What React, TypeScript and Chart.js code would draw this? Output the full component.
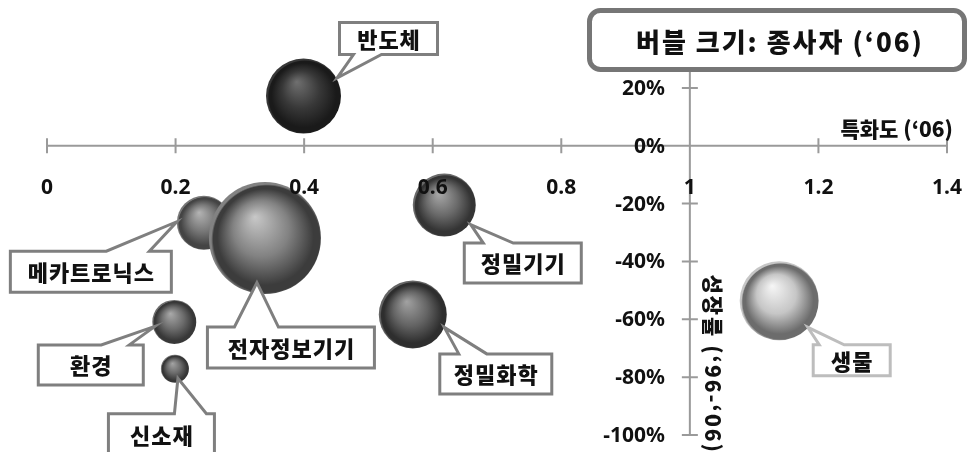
import React, { useEffect, useRef } from 'react';
import { Chart, registerables } from 'chart.js';

Chart.register(...registerables);

// Industry clusters: specialization index ('06) vs. employment growth ('96-'06)
const industries = ['반도체', '메카트로닉스', '전자정보기기', '정밀기기', '정밀화학', '환경', '신소재', '생물'];
const specialization06 = [0.399, 0.244, 0.339, 0.618, 0.569, 0.198, 0.199, 1.139];
const growth96to06 = [0.172, -0.266, -0.319, -0.205, -0.583, -0.609, -0.771, -0.536];
// bubble radius (px) standing for employees in '06
const employeeRadius = [37.5, 27, 56, 31.5, 34, 22, 14, 39.5];

const xTickValues = [0, 0.2, 0.4, 0.6, 0.8, 1, 1.2, 1.4];
const xTickLabels = ['0', '0.2', '0.4', '0.6', '0.8', '1', '1.2', '1.4'];
const yTickValues = [-1, -0.8, -0.6, -0.4, -0.2, 0, 0.2];
const yTickLabels = ['-100%', '-80%', '-60%', '-40%', '-20%', '0%', '20%'];

const xAxisTitle = '특화도 (‘06)';
const yAxisTitle = '성장률 (‘96-‘06)';
const sizeNote = '버블 크기: 종사자 (‘06)';

const KR = '"Noto Sans CJK KR", "Noto Sans", sans-serif';
const NUM = '"Noto Sans", "Noto Sans CJK KR", sans-serif';
const AXIS_GRAY = '#9a9a9a';

// highlight / body / edge shades of each sphere
const sphereShades: string[][] = [
  ['#707070', '#383838', '#1a1a1a'],
  ['#b4b4b4', '#777777', '#444444'],
  ['#c8c8c8', '#828282', '#3c3c3c'],
  ['#aaaaaa', '#6a6a6a', '#343434'],
  ['#a2a2a2', '#646464', '#2e2e2e'],
  ['#aaaaaa', '#6c6c6c', '#383838'],
  ['#a4a4a4', '#6a6a6a', '#363636'],
  ['#f6f6f6', '#c6c6c6', '#6c6c6c'],
];

// callout boxes, placed relative to each bubble's centre (px)
type Callout = {
  box: [number, number, number, number];
  edge: 'top' | 'bottom';
  base: [number, number];
  tip: [number, number];
  stroke: string;
};
const callouts: Callout[] = [
  { box: [34.5, -75, 101, 35], edge: 'bottom', base: [14, 42], tip: [33.5, -18], stroke: '#7f7f7f' },
  { box: [-195, 27, 164, 44], edge: 'top', base: [96, 139], tip: [-27, -1], stroke: '#7f7f7f' },
  { box: [-59, 87.5, 170, 44], edge: 'top', base: [27, 71], tip: [-8, 44.5], stroke: '#7f7f7f' },
  { box: [18.5, 36.5, 120, 43], edge: 'top', base: [19, 49], tip: [26.5, 19.5], stroke: '#7f7f7f' },
  { box: [25.5, 38, 115, 43], edge: 'top', base: [19, 47], tip: [31.5, 13], stroke: '#7f7f7f' },
  { box: [-137.5, 21.5, 108, 43], edge: 'top', base: [63, 91], tip: [-19.5, 4.5], stroke: '#7f7f7f' },
  { box: [-68, 43.5, 109, 44], edge: 'top', base: [66, 98], tip: [3, 9.5], stroke: '#7f7f7f' },
  { box: [32.5, 42.5, 80, 34], edge: 'top', base: [6, 31], tip: [28.5, 26.5], stroke: '#bdbdbd' },
];

function calloutPath(ctx: CanvasRenderingContext2D, x: number, y: number, w: number, h: number, c: Callout, tx: number, ty: number) {
  ctx.beginPath();
  ctx.moveTo(x, y);
  if (c.edge === 'top') {
    ctx.lineTo(x + c.base[0], y);
    ctx.lineTo(tx, ty);
    ctx.lineTo(x + c.base[1], y);
  }
  ctx.lineTo(x + w, y);
  ctx.lineTo(x + w, y + h);
  if (c.edge === 'bottom') {
    ctx.lineTo(x + c.base[1], y + h);
    ctx.lineTo(tx, ty);
    ctx.lineTo(x + c.base[0], y + h);
  }
  ctx.lineTo(x, y + h);
  ctx.closePath();
}

const crossedAxes = {
  id: 'crossedAxes',
  beforeDatasetsDraw(chart: any) {
    const { ctx, scales } = chart;
    const xs = scales.x;
    const ys = scales.y;
    const y0 = ys.getPixelForValue(0);
    const x1 = xs.getPixelForValue(1);
    ctx.save();
    ctx.strokeStyle = AXIS_GRAY;
    ctx.lineWidth = 2;
    ctx.beginPath();
    ctx.moveTo(xs.getPixelForValue(xTickValues[0]), y0);
    ctx.lineTo(xs.getPixelForValue(xTickValues[xTickValues.length - 1]), y0);
    ctx.moveTo(x1, ys.top);
    ctx.lineTo(x1, ys.getPixelForValue(yTickValues[0]));
    xTickValues.forEach((v) => {
      const px = xs.getPixelForValue(v);
      ctx.moveTo(px, y0 - 7.5);
      ctx.lineTo(px, y0 + 7.5);
    });
    yTickValues.forEach((v) => {
      const py = ys.getPixelForValue(v);
      ctx.moveTo(x1 - 8, py);
      ctx.lineTo(x1 + 8, py);
    });
    ctx.stroke();
    ctx.restore();
  },
  afterDatasetsDraw(chart: any) {
    const { ctx, scales } = chart;
    const xs = scales.x;
    const ys = scales.y;
    const y0 = ys.getPixelForValue(0);
    const x1 = xs.getPixelForValue(1);
    ctx.save();
    ctx.fillStyle = '#111';
    ctx.font = `bold 21px ${NUM}`;
    ctx.textAlign = 'center';
    ctx.textBaseline = 'middle';
    xTickValues.forEach((v, i) => {
      ctx.fillText(xTickLabels[i], xs.getPixelForValue(v), y0 + 42);
    });
    ctx.textAlign = 'right';
    yTickValues.forEach((v, i) => {
      ctx.fillText(yTickLabels[i], x1 - 25, ys.getPixelForValue(v) + 1);
    });

    // axis titles
    ctx.font = `900 21px ${KR}`;
    ctx.textAlign = 'right';
    ctx.fillText(xAxisTitle, xs.right + 6, y0 - 17);
    ctx.save();
    ctx.translate(x1 + 23, ys.getPixelForValue(-0.755));
    ctx.rotate(Math.PI / 2);
    ctx.textAlign = 'center';
    (ctx as any).letterSpacing = '2px';
    ctx.fillText(yAxisTitle, 0, 0);
    ctx.restore();

    // callouts
    ctx.lineWidth = 3;
    ctx.lineJoin = 'miter';
    ctx.font = `900 22px ${KR}`;
    (ctx as any).letterSpacing = '1px';
    ctx.textAlign = 'center';
    industries.forEach((name, i) => {
      const c = callouts[i];
      const cx = xs.getPixelForValue(specialization06[i]);
      const cy = ys.getPixelForValue(growth96to06[i]);
      const bx = cx + c.box[0] + 1.5;
      const by = cy + c.box[1] + 1.5;
      const bw = c.box[2] - 3;
      const bh = c.box[3] - 3;
      calloutPath(ctx, bx, by, bw, bh, c, cx + c.tip[0], cy + c.tip[1]);
      ctx.fillStyle = '#fff';
      ctx.fill();
      ctx.strokeStyle = c.stroke;
      ctx.stroke();
      ctx.fillStyle = '#111';
      ctx.fillText(name, bx + bw / 2 + 0.5, by + bh / 2 + 1);
    });

    // bubble size note
    ctx.beginPath();
    (ctx as any).roundRect(589.5, 10.5, 375, 59, 11);
    ctx.fillStyle = '#fff';
    ctx.fill();
    ctx.lineWidth = 5;
    ctx.strokeStyle = '#767676';
    ctx.stroke();
    ctx.fillStyle = '#111';
    ctx.font = `900 26px ${KR}`;
    (ctx as any).letterSpacing = '2px';
    ctx.fillText(sizeNote, 780, 42);
    ctx.restore();
  },
};

function sphereFill(ctx: any) {
  const i = ctx.dataIndex;
  if (ctx.type !== 'data' || i == null) return '#666';
  const chart = ctx.chart;
  const xs = chart.scales.x;
  const ys = chart.scales.y;
  const [hi, body, edge] = sphereShades[i];
  if (!xs || !ys) return body;
  const cx = xs.getPixelForValue(specialization06[i]);
  const cy = ys.getPixelForValue(growth96to06[i]);
  const r = employeeRadius[i];
  if (!Number.isFinite(cx) || !Number.isFinite(cy)) return body;
  const g = chart.ctx.createRadialGradient(cx - r * 0.18, cy - r * 0.38, 0, cx + r * 0.04, cy + r * 0.04, r);
  g.addColorStop(0, hi);
  g.addColorStop(0.5, body);
  g.addColorStop(0.86, edge);
  g.addColorStop(0.95, edge);
  g.addColorStop(1, body);
  return g;
}

export default function App() {
  const canvasRef = useRef<HTMLCanvasElement | null>(null);

  useEffect(() => {
    const canvas = canvasRef.current;
    if (!canvas) return;
    const chart = new Chart(canvas, {
      type: 'bubble',
      data: {
        labels: industries,
        datasets: [
          {
            label: '종사자',
            data: industries.map((_, i) => ({ x: specialization06[i], y: growth96to06[i], r: employeeRadius[i] })),
            backgroundColor: sphereFill,
            borderWidth: 0,
            clip: false,
          } as any,
        ],
      },
      options: {
        responsive: false,
        animation: false,
        events: [],
        layout: { autoPadding: false, padding: { left: 47, right: 26, top: 59, bottom: 17 } },
        plugins: { legend: { display: false }, tooltip: { enabled: false } },
        scales: {
          x: { type: 'linear', min: 0, max: 1.4, display: false },
          y: { type: 'linear', min: -1, max: 0.3, display: false },
        },
      },
      plugins: [crossedAxes],
    });
    return () => chart.destroy();
  }, []);

  return (
    <div style={{ position: 'absolute', left: 0, top: 0, width: 973, height: 452, background: '#fff' }}>
      <canvas ref={canvasRef} width={973} height={452} style={{ display: 'block' }} />
    </div>
  );
}
